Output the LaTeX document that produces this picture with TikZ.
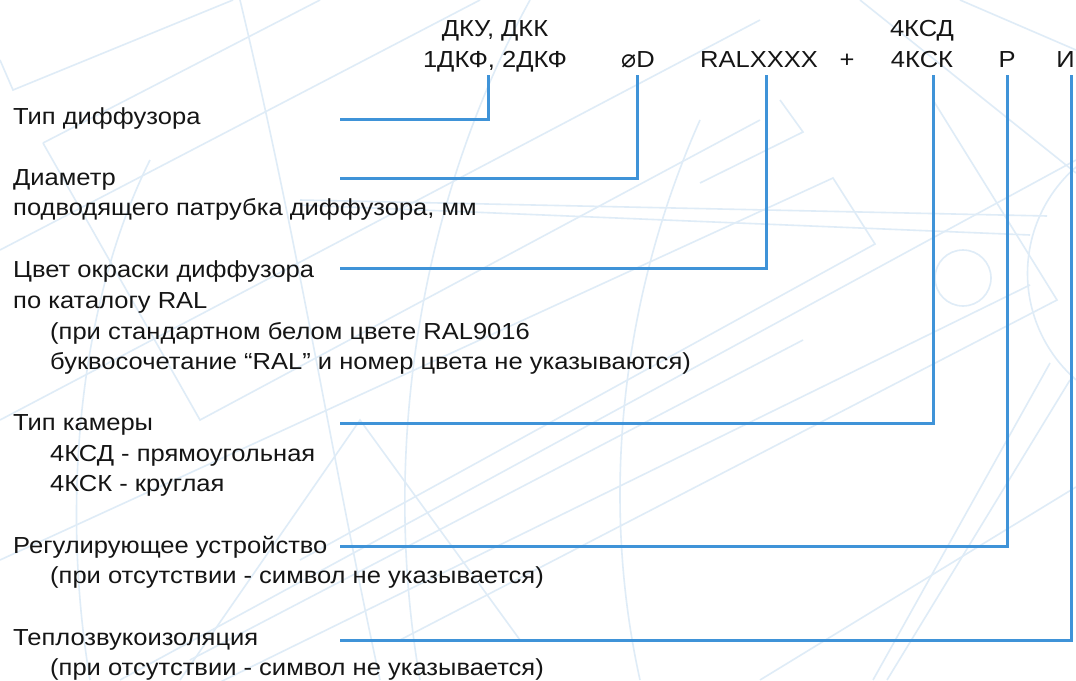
\documentclass[tikz,border=0pt]{standalone}
\usepackage{fontspec}
\setmainfont{Liberation Sans}[FakeStretch=1.1]
\newfontfamily\symfont{DejaVu Sans}
\definecolor{conn}{HTML}{3F93D8}
\definecolor{wm}{HTML}{DFECF7}
\definecolor{ink}{HTML}{151515}
\tikzset{
  lbl/.style={anchor=base west, inner sep=0pt, text=ink, font=\fontsize{23.2}{27}\selectfont},
  code/.style={anchor=base, inner sep=0pt, text=ink, font=\fontsize{23.2}{27}\selectfont},
  link/.style={draw=conn, line width=3pt, line cap=rect},
  wmark/.style={draw=wm, line width=1.6pt}
}
\begin{document}
\begin{tikzpicture}[x=1pt,y=-1pt]
\useasboundingbox (0,0) rectangle (1076,680);
\fill[white] (0,0) rectangle (1076,680);
% faint watermark
\begin{scope}
\clip (0,0) rectangle (1076,680);
\draw[wmark] (0,60) -- (13,90) -- (233,0);
\draw[wmark] (0,250) -- (480,0);
\draw[wmark] (43,143) -- (320,0);
\draw[wmark] (43,143) -- (200,420) -- (760,120);
\draw[wmark] (0,420) -- (760,20);
\draw[wmark] (120,680) -- (1076,160);
\draw[wmark] (0,560) -- (833,178) -- (875,244) -- (300,560);
\draw[wmark] (190,660) -- (803,340) ;
\draw[wmark] (700,183) -- (803,132) -- (780,100);
\draw[wmark] (300,200) -- (1047,216);
\draw[wmark] (300,205) -- (1030,235);
\draw[wmark] (933,100) -- (1057,300) -- (400,640);
\draw[wmark] (1030,285) -- (0,790);
\draw[wmark] (1050,363) -- (873,680);
\draw[wmark] (1070,380) -- (887,680);
\draw[wmark] (1076,487) -- (760,680);
\draw[wmark] (860,0) -- (1076,173);
\draw[wmark] (960,0) -- (1076,50);
\draw[wmark] (963,278) circle (28);
\draw[wmark] (1076,167) arc[start angle=-131, end angle=-229, radius=141];
\draw[wmark] (420,680) .. controls (380,450) and (420,200) .. (530,0);
\draw[wmark] (380,680) .. controls (330,450) and (300,250) .. (240,0);
\draw[wmark] (90,680) .. controls (60,500) and (80,300) .. (150,160);
\draw[wmark] (640,680) .. controls (600,500) and (620,300) .. (700,120);
\draw[wmark] (180,680) -- (360,420) -- (520,640);
\end{scope}
% codes (top)
\node[code] (c1a) at (495,36.7) {ДКУ, ДКК};
\node[code] (c1) at (495,67) {1ДКФ, 2ДКФ};
\node[code, anchor=base west] (c2) at (621,67) {{\symfont\fontsize{25}{25}\selectfont ⌀}D};
\node[code] (c3) at (759,67) {RALXXXX};
\node[code] (plus) at (847,67) {+};
\node[code] (c4a) at (922,36) {4КСД};
\node[code] (c4) at (922,67) {4КСК};
\node[code] (c5) at (1007,67) {Р};
\node[code, anchor=base east] (c6) at (1075,67) {И};
% labels (left)
\node[lbl] (l1) at (13,124) {Тип диффузора};
\node[lbl] (l2) at (13,185) {Диаметр};
\node[lbl] (l2b) at (13,215) {подводящего патрубка диффузора, мм};
\node[lbl] (l3) at (13,277) {Цвет окраски диффузора};
\node[lbl] (l3b) at (13,308) {по каталогу RAL};
\node[lbl] (l3c) at (50,339) {(при стандартном белом цвете RAL9016};
\node[lbl] (l3d) at (50,369) {буквосочетание “RAL” и номер цвета не указываются)};
\node[lbl] (l4) at (13,430) {Тип камеры};
\node[lbl] (l4b) at (50,461) {4КСД - прямоугольная};
\node[lbl] (l4c) at (50,491) {4КСК - круглая};
\node[lbl] (l5) at (13,553) {Регулирующее устройство};
\node[lbl] (l5b) at (50,583) {(при отсутствии - символ не указывается)};
\node[lbl] (l6) at (13,645) {Теплозвукоизоляция};
\node[lbl] (l6b) at (50,675) {(при отсутствии - символ не указывается)};
% connector ends
\coordinate (t1) at (488,76);
\coordinate (t2) at (637,76);
\coordinate (t3) at (766,76);
\coordinate (t4) at (933,76);
\coordinate (t5) at (1007,76);
\coordinate (t6) at (1071,76);
\coordinate (e1) at (341,119);
\coordinate (e2) at (341,178);
\coordinate (e3) at (341,268.5);
\coordinate (e4) at (341,423);
\coordinate (e5) at (341,546.5);
\coordinate (e6) at (341,640);
\draw[link] (t1) |- (e1);
\draw[link] (t2) |- (e2);
\draw[link] (t3) |- (e3);
\draw[link] (t4) |- (e4);
\draw[link] (t5) |- (e5);
\draw[link] (t6) |- (e6);
\end{tikzpicture}
\end{document}
